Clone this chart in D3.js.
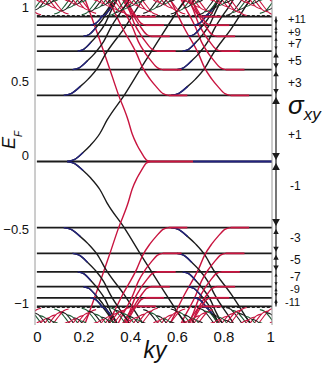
<!DOCTYPE html>
<html>
<head>
<meta charset="utf-8">
<script src="https://cdn.jsdelivr.net/npm/d3@7"></script>
<style>
  body { margin: 0; background: #fff; }
  svg text { font-family: "Liberation Sans", Arial, sans-serif; fill: #111; }
</style>
</head>
<body>
<div id="chart"></div>
<script>
// Landau level energies (positive side, mirrored for E < 0)
const levelE = [0, 0.446, 0.62, 0.745, 0.845, 0.92, 0.978,
                0.985, 0.99, 0.995, 1.0, 1.005, 1.01, 1.015, 1.02, 1.025, 1.03, 1.035, 1.04,
                1.045, 1.05, 1.055, 1.06, 1.065, 1.07, 1.075, 1.08, 1.085, 1.09, 1.095];
// ky where an edge branch leaves each level (black) and where one joins it (red)
const blackKy = [[0.13], [0.115, 0.575], [0.153, 0.6], [0.175, 0.625], [0.2, 0.65], [0.23, 0.675], [0.27, 0.71],
                 [0.31, 0.81], [0.692, 0.192], [0.074, 0.574], [0.456, 0.956], [0.838, 0.338], [0.22, 0.72],
                 [0.602, 0.102], [0.984, 0.484], [0.366, 0.866], [0.748, 0.248], [0.13, 0.63], [0.512, 0.012],
                 [0.894, 0.394], [0.276, 0.776], [0.658, 0.158], [0.04, 0.54], [0.422, 0.922], [0.804, 0.304],
                 [0.186, 0.686], [0.568, 0.068], [0.95, 0.45], [0.332, 0.832], [0.714, 0.214]];
const redKy = [[0.485], [0.565, 0.83], [0.54, 0.81], [0.515, 0.79], [0.49, 0.77], [0.465, 0.745], [0.43, 0.71],
               [0.4, 0.9], [0.018, 0.518], [0.636, 0.136], [0.254, 0.754], [0.872, 0.372], [0.49, 0.99],
               [0.108, 0.608], [0.726, 0.226], [0.344, 0.844], [0.962, 0.462], [0.58, 0.08], [0.198, 0.698],
               [0.816, 0.316], [0.434, 0.934], [0.052, 0.552], [0.67, 0.17], [0.288, 0.788], [0.906, 0.406],
               [0.524, 0.024], [0.142, 0.642], [0.76, 0.26], [0.378, 0.878], [0.996, 0.496]];
// width of the branches for the lowest levels; the hatched band uses hatchW
const blackW = [1, 1.05, 0.95, 0.85, 0.8, 0.75, 0.7];
const redW = [0.55, 0.8, 0.75, 0.7, 0.65, 0.6, 0.6];
const hatchW = 0.7;
const profile = [[0, 0], [0.03, 0.012], [0.068, 0.061], [0.1, 0.11], [0.14, 0.189], [0.17, 0.277],
                 [0.247, 0.453], [0.32, 0.64], [0.4, 0.84], [0.5, 1.08], [0.6, 1.3], [0.7, 1.52]];
const xTicks = [0, 0.2, 0.4, 0.6, 0.8, 1];
const yTicks = [-1, -0.5, 0, 0.5, 1];
const sigmaLabels = ["+1", "+3", "+5", "+7", "+9", "+11"];

const W = 333, H = 372;
const m = {left: 35, right: 272, top: 0, bottom: 323};

const x = d3.scaleLinear().domain([-0.008, 1.008]).range([m.left, m.right]);
const y = d3.scaleLinear().domain([-1.09, 1.09]).range([m.bottom, m.top]);

const svg = d3.select("#chart").append("svg").attr("width", W).attr("height", H);

svg.append("defs").append("clipPath").attr("id", "clip")
  .append("rect").attr("x", m.left).attr("y", m.top).attr("width", m.right - m.left).attr("height", m.bottom - m.top);

const plot = svg.append("g").attr("clip-path", "url(#clip)");

const line = d3.line().x(d => x(d[0])).y(d => y(d[1])).curve(d3.curveMonotoneX);

const black = "#1b1b1b", red = "#c8143f", blue = "#23237e", green = "#1e5c36";
const dense = 6; // levels above this one form the hatched band

// flat levels (the hatched band only keeps its lowest one, dashed)
levelE.forEach((e, n) => {
  if (n > dense + 1) return;
  [1, -1].forEach(sg => {
    if (n === 0 && sg < 0) return;
    plot.append("path").attr("d", line([[0, sg * e], [1.01, sg * e]]))
      .attr("stroke", black).attr("stroke-width", n > dense ? 1 : 1.8)
      .attr("stroke-dasharray", n > dense ? "3,2" : null).attr("fill", "none");
  });
});
// colored pieces of the zero level
plot.append("path").attr("d", line([[0.47, 0], [0.67, 0]])).attr("stroke", red).attr("stroke-width", 1.8).attr("fill", "none");
plot.append("path").attr("d", line([[0.67, 0], [1.01, 0]])).attr("stroke", blue).attr("stroke-width", 1.8).attr("fill", "none");

function branch(n, k0, w, dir, sg) {
  // dir = +1 leaves level going right, -1 joins level coming from left
  return profile.map(p => [k0 + dir * p[0] * w, sg * (levelE[n] + p[1])])
    .sort((a, b) => a[0] - b[0]);
}

levelE.forEach((e, n) => {
  const lw = n > dense ? 1.1 : 1.4;
  const bw = n > dense ? hatchW : blackW[n], rw = n > dense ? hatchW : redW[n];
  [1, -1].forEach(sg => {
    [-1, 0, 1].forEach(shift => {
      blackKy[n].forEach((k, i) => {
        const pts = branch(n, k + shift, bw, 1, sg);
        plot.append("path").attr("d", line(pts))
          .attr("stroke", n > dense && (n + i) % 2 ? green : black).attr("stroke-width", lw).attr("fill", "none");
        if (n <= dense) plot.append("path").attr("d", line(pts.slice(0, 3)))
          .attr("stroke", blue).attr("stroke-width", lw).attr("fill", "none");
      });
      redKy[n].forEach(k => {
        const pts = branch(n, k + shift, rw, -1, sg);
        plot.append("path").attr("d", line(pts))
          .attr("stroke", red).attr("stroke-width", lw).attr("fill", "none");
        if (n > 0 && n <= dense) plot.append("path").attr("d", line([[k + shift, sg * e], [k + shift + 0.08, sg * e]]))
          .attr("stroke", red).attr("stroke-width", 1.8).attr("fill", "none");
      });
    });
  });
});

// frame
svg.append("line").attr("x1", m.left).attr("x2", m.left).attr("y1", m.top).attr("y2", m.bottom + 2)
  .attr("stroke", "#9a9a9a").attr("stroke-width", 1);
svg.append("line").attr("x1", m.right).attr("x2", m.right).attr("y1", m.top).attr("y2", m.bottom + 2)
  .attr("stroke", "#9a9a9a").attr("stroke-width", 1);

// axes
const xAxis = svg.append("g").attr("transform", `translate(0,${m.bottom})`)
  .call(d3.axisBottom(x).tickValues(xTicks).tickSize(0).tickPadding(6).tickFormat(d3.format("")));
xAxis.select(".domain").remove();
xAxis.selectAll("text").style("font-size", "15px").attr("dy", "0.85em");

const yAxis = svg.append("g").attr("transform", `translate(${m.left},0)`)
  .call(d3.axisLeft(y).tickValues(yTicks).tickSize(0).tickPadding(6).tickFormat(d3.format("")));
yAxis.select(".domain").remove();
yAxis.selectAll("text").style("font-size", "13px").attr("dy", "-0.15em");

// axis titles
svg.append("text").attr("x", 155).attr("y", 358).attr("text-anchor", "middle")
  .style("font-size", "23px").style("font-style", "italic").text("ky");
const ef = svg.append("text").attr("transform", "translate(15,149) rotate(-90)")
  .style("font-size", "18px").style("font-style", "italic");
ef.append("tspan").text("E");
ef.append("tspan").attr("dy", 7).style("font-size", "10px").text("F");

// sigma_xy arrows
const ax = 276;
svg.append("line").attr("x1", ax).attr("x2", ax).attr("y1", y(levelE[6])).attr("y2", y(-levelE[6]))
  .attr("stroke", black).attr("stroke-width", 1.2);
function head(yy, up, size) {
  const s = up ? -1 : 1;
  svg.append("path")
    .attr("d", `M${ax},${yy} L${ax - size * 0.55},${yy - s * size} L${ax + size * 0.55},${yy - s * size}Z`)
    .attr("fill", black);
}
sigmaLabels.forEach((lab, g) => {
  const size = g === 0 ? 7 : g < 3 ? 5 : 3;
  [1, -1].forEach(sg => {
    const y0 = y(sg * levelE[g]), y1 = y(sg * levelE[g + 1]);
    head(y1 + sg * 1.5, sg > 0, size);
    head(y0 - sg * 1.5, sg < 0, size);
    let ym = (y0 + y1) / 2 + (sg > 0 ? 1.5 : -1.5);
    if (g === 0) ym += sg * 6;
    if (g === 4) ym += sg * 1;
    if (g === 5) ym -= sg * 2;
    svg.append("text").attr("x", sg > 0 ? 288 : 290 - (g > 4 ? 5 : 0)).attr("y", ym)
      .attr("dominant-baseline", "middle").style("font-size", g > 3 ? "11px" : "12px")
      .text(sg > 0 ? lab : lab.replace("+", "-"));
  });
});
const sig = svg.append("text").attr("x", 288).attr("y", 114).style("font-style", "italic");
sig.append("tspan").style("font-size", "26px").text("σ");
sig.append("tspan").attr("dy", 6).style("font-size", "17px").text("xy");
</script>
</body>
</html>
